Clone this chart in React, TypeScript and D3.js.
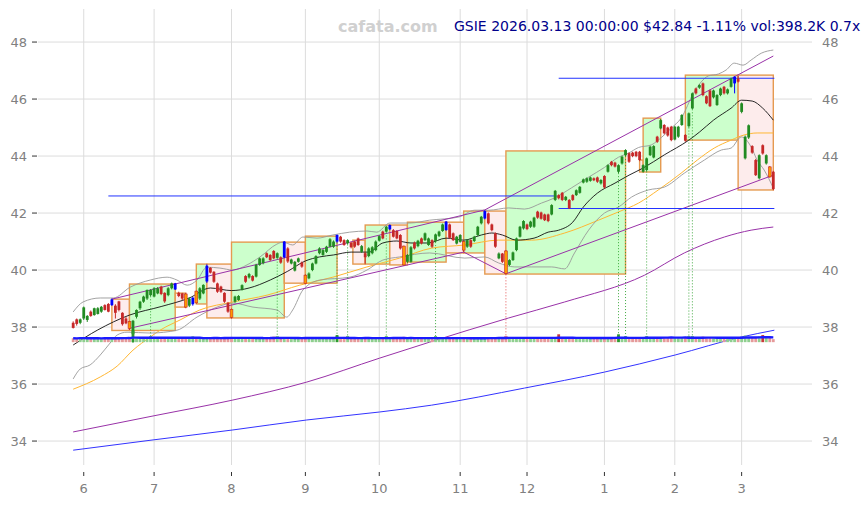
import React from 'react';
import * as d3 from 'd3';

// ---------- DATA ----------
const OPEN = [38.15,38.27,38.15,38.3,38.25,38.54,38.42,38.46,38.54,38.77,38.81,38.77,38.75,38.9,38.5,38.3,38.2,37.75,38.36,38.66,
38.89,39.0,39.12,39.07,39.18,39.42,39.2,39.12,39.36,39.32,39.2,39.18,39.16,38.75,38.8,39.26,39.0,39.18,39.6,40.08,
39.94,39.53,39.42,39.2,38.85,38.62,38.89,38.95,39.32,39.79,39.74,39.79,39.77,40.18,40.24,40.59,40.53,40.67,40.43,40.45,
40.45,40.76,40.23,39.98,40.29,40.26,39.82,39.71,40.0,40.23,40.59,40.53,40.64,40.82,40.82,41.0,41.17,41.05,40.94,40.96,
41.0,41.11,40.64,40.59,40.49,40.59,40.7,41.03,41.35,41.35,41.43,41.4,41.37,41.23,40.84,40.29,40.29,40.96,40.84,41.11,
41.05,40.88,41.05,41.02,41.2,41.37,41.4,41.6,41.29,40.93,40.99,41.0,40.82,41.05,41.02,41.23,41.64,41.81,41.99,41.6,
41.29,40.41,40.58,40.67,40.18,40.35,40.7,41.17,41.46,41.6,41.52,41.52,42.05,42.02,41.95,41.95,41.95,42.46,42.63,42.71,
42.46,42.46,42.63,42.63,42.71,43.07,43.1,43.13,43.22,43.25,43.04,43.3,43.45,43.8,43.77,43.45,43.74,44.03,44.1,44.12,
44.15,44.15,43.45,43.51,44.03,43.95,44.68,44.97,45.09,45.0,45.03,44.58,44.68,45.09,44.74,45.05,45.67,46.37,46.4,46.55,
46.1,46.3,46.06,45.79,46.14,46.43,46.2,46.43,46.55,46.72,45.55,43.92,44.65,44.35,43.86,43.22,44.38,43.74,43.62,43.45];
const CLOSE = [37.97,38.11,38.27,38.69,38.39,38.39,38.66,38.66,38.71,38.6,38.54,38.97,38.5,38.6,38.1,38.13,37.95,38.22,38.6,38.89,
39.07,39.3,39.3,39.36,39.36,39.16,38.9,39.36,39.53,39.53,39.09,39.0,38.7,39.0,39.03,38.85,39.36,39.48,40.15,39.91,
39.59,39.24,39.24,38.89,38.54,38.34,39.07,39.09,39.47,39.59,39.86,39.63,40.18,40.41,40.41,40.45,40.35,40.41,40.59,40.26,
41.0,40.3,40.37,40.29,40.41,40.12,39.53,39.88,40.23,40.49,40.76,40.7,40.82,41.08,41.0,41.23,41.0,40.88,41.05,40.8,
40.82,40.88,40.84,40.45,40.76,40.8,41.0,41.19,41.11,41.52,41.58,41.17,41.11,40.76,40.18,40.53,40.8,40.76,41.03,40.94,
41.29,41.11,40.82,41.25,41.35,41.6,41.7,41.13,41.05,41.17,41.23,40.7,41.05,40.82,41.17,41.52,41.87,42.07,41.64,41.4,
40.82,40.58,40.29,39.88,40.35,40.62,41.11,41.52,41.72,41.44,41.7,41.84,41.84,41.8,41.75,41.72,42.28,42.78,42.52,42.46,
42.57,42.17,42.46,42.8,42.92,43.18,43.22,43.25,43.15,43.1,43.16,42.9,43.68,43.68,43.63,43.68,43.98,44.21,43.8,44.0,
44.0,43.86,43.68,43.92,44.33,44.35,44.5,45.26,44.8,44.72,44.56,45.03,45.03,45.44,44.54,45.5,46.2,46.2,46.49,46.14,
45.85,45.75,46.3,46.14,46.37,46.2,46.34,46.72,46.78,46.61,45.85,44.68,45.08,44.12,43.33,44.03,44.09,44.03,43.27,42.84];
const HIGH = [38.2,38.3,38.3,38.72,38.42,38.58,38.68,38.7,38.74,38.8,38.84,39.0,38.8,38.92,38.52,38.35,38.22,38.25,38.62,38.92,
39.1,39.32,39.33,39.4,39.4,39.45,39.22,39.4,39.56,39.55,39.24,39.2,39.2,39.05,39.05,39.28,39.4,39.5,40.2,40.1,
39.96,39.56,39.45,39.22,38.88,38.65,39.1,39.12,39.5,39.82,39.9,39.82,40.22,40.44,40.45,40.62,40.56,40.7,40.62,40.48,
41.02,40.8,40.4,40.32,40.44,40.3,39.85,39.92,40.26,40.52,40.8,40.74,40.85,41.12,41.04,41.25,41.2,41.08,41.08,41.0,
41.03,41.14,40.88,40.62,40.8,40.84,41.04,41.22,41.38,41.55,41.6,41.44,41.4,41.26,40.86,40.56,40.84,41.0,41.06,41.14,
41.32,41.14,41.08,41.28,41.38,41.63,41.72,41.63,41.32,41.2,41.26,41.02,41.08,41.08,41.2,41.55,41.9,42.1,42.02,41.63,
41.32,40.62,40.6,40.7,40.38,40.65,41.14,41.55,41.75,41.63,41.73,41.87,42.08,42.05,41.98,41.98,42.31,42.81,42.66,42.74,
42.6,42.49,42.66,42.83,42.95,43.21,43.25,43.28,43.25,43.28,43.19,43.33,43.71,43.83,43.8,43.71,44.01,44.24,44.13,44.15,
44.18,44.18,43.71,43.95,44.36,44.38,44.71,45.3,45.12,45.03,45.06,45.06,45.06,45.47,44.77,45.53,46.23,46.4,46.52,46.58,
46.13,46.33,46.33,46.17,46.4,46.46,46.37,46.75,46.8,46.82,45.88,44.72,45.11,44.38,43.9,44.06,44.41,44.06,43.65,43.48];
const LOW = [37.95,38.05,38.1,38.25,38.18,38.36,38.4,38.44,38.5,38.58,38.52,38.74,38.3,38.55,38.05,38.1,37.9,37.45,38.3,38.6,
38.85,38.95,39.08,39.04,39.15,39.12,38.85,39.08,39.32,39.3,39.05,38.95,38.66,38.7,38.75,38.82,38.95,39.15,39.55,39.88,
39.55,39.2,39.2,38.85,38.5,38.3,38.85,38.92,39.28,39.55,39.7,39.6,39.74,40.15,40.2,40.42,40.32,40.38,40.4,40.22,
40.42,40.25,40.2,39.95,40.26,40.08,39.5,39.68,39.96,40.2,40.55,40.5,40.6,40.8,40.78,40.96,40.96,40.85,40.9,40.76,
40.78,40.85,40.6,40.22,40.45,40.55,40.66,41.0,41.08,41.32,41.4,41.14,41.08,40.72,40.15,40.25,40.26,40.72,40.8,40.9,
41.02,40.85,40.78,40.98,41.16,41.34,41.38,41.1,41.02,40.9,40.96,40.63,40.78,40.78,40.98,41.2,41.6,41.78,41.6,41.36,
40.78,40.38,40.25,39.85,40.14,40.32,40.66,41.14,41.42,41.4,41.48,41.48,41.8,41.77,41.72,41.68,41.92,42.42,42.48,42.42,
42.42,42.14,42.42,42.6,42.68,43.04,43.06,43.1,43.12,43.06,43.0,42.86,43.42,43.64,43.6,43.4,43.7,44.0,43.76,43.96,
43.96,43.82,43.42,43.46,44.0,43.92,44.46,44.94,44.76,44.68,44.52,44.55,44.64,45.06,44.5,45.0,45.64,46.16,46.36,46.1,
45.82,45.72,46.02,45.76,46.1,46.16,46.16,46.4,46.2,46.58,45.5,43.88,44.6,44.08,43.3,43.18,44.05,43.7,43.24,42.8];
const VOLUME = [520,480,610,560,450,530,470,500,440,580,510,620,540,590,660,520,700,1550,560,490,
470,530,600,450,480,520,560,430,510,590,470,500,640,520,800,610,480,460,680,550,
570,600,480,620,650,700,540,500,490,560,440,470,580,520,480,500,530,750,800,510,
640,600,450,490,470,520,680,500,530,560,480,440,510,570,490,950,530,700,460,520,
480,500,470,560,510,450,530,600,550,490,580,520,560,610,720,540,590,470,460,500,
520,480,540,510,470,500,600,620,530,480,500,550,460,520,490,560,610,640,580,550,
660,590,600,780,560,520,610,590,540,500,470,520,560,530,490,510,600,640,1050,560,
480,610,520,540,570,600,460,450,430,500,470,620,640,560,530,1050,610,650,590,520,
540,580,600,620,580,610,560,680,590,570,600,550,540,610,620,590,700,560,520,750,
580,620,540,560,510,550,530,600,660,640,720,900,680,620,700,760,950,600,640,398.2];

const BLUE_BARS = [11, 29, 34, 38, 60, 75, 90, 106, 117, 188];
const ORANGE_BARS = [16, 32, 35, 45, 66, 94, 111, 123, 198];

const MONTH_TICKS = [3, 23, 45, 66, 87, 110, 129, 151, 171, 190];
const MONTH_LABELS = ['6', '7', '8', '9', '10', '11', '12', '1', '2', '3'];
const PRICE_TICKS = [34, 36, 38, 40, 42, 44, 46, 48];

// moving average (black)
const MA_MID: [number, number][] = [[0,37.37],[7,37.9],[16,38.42],[25,38.72],[33,39.02],[39,39.37],[45,39.28],[50,39.37],[56,39.65],[61,39.96],[66,40.32],[70,40.46],[74,40.53],[79,40.63],[84,40.63],[88,40.95],[92,41.02],[96,40.95],[101,40.95],[106,41.12],[111,41.05],[116,41.23],[119,41.3],[122,41.23],[126,41.05],[131,41.12],[135,41.33],[138,41.4],[142,41.68],[145,42.21],[149,42.7],[154,43.05],[158,43.33],[162,43.58],[168,44.04],[175,44.56],[178,44.84],[182,45.26],[187,45.68],[190,45.96],[193,45.93],[196,45.68],[199,45.26]];
const BB_UPPER: [number, number][] = [[0,38.53],[2.8,38.88],[7.7,39.02],[11.4,39.02],[16.2,39.4],[21.9,39.65],[26.7,39.75],[29.5,39.65],[32.4,39.47],[35.2,39.65],[38,40.1],[41.7,40.07],[45.4,40.0],[49.4,40.18],[53.1,40.46],[57.9,40.91],[59.6,40.98],[62.4,40.88],[65.3,41.16],[69.3,41.12],[73.8,41.23],[78.6,41.33],[83.5,41.37],[86.3,41.33],[90,41.65],[95.7,41.65],[101.3,41.75],[109.6,41.86],[114.1,42.1],[118.1,42.1],[123.8,42.18],[128.3,42.14],[133.1,42.35],[136.8,42.53],[141.6,42.88],[146.5,43.26],[151,43.6],[155,43.96],[157.8,44.1],[160.7,44.3],[164.3,44.39],[166.3,44.56],[170,44.98],[172.8,45.33],[176.5,46.25],[178.5,46.6],[180.5,46.81],[183.4,46.88],[185.6,47.02],[187.9,47.26],[190.4,47.19],[192.7,47.37],[195.6,47.61],[199,47.72]];
const BB_LOWER: [number, number][] = [[0,36.18],[2,36.53],[4.8,36.67],[7.7,37.02],[10.5,37.44],[12.5,37.72],[15.3,37.82],[21.9,37.79],[29.5,37.89],[35.2,38.35],[40.9,38.7],[45.4,38.84],[51.1,38.7],[57.9,38.6],[60.7,38.35],[62.4,38.6],[65.3,39.3],[70.1,39.65],[78.6,39.75],[83.5,40.0],[88,40.35],[92.8,40.46],[101.3,40.6],[111.3,40.42],[116.9,40.46],[120.9,40.25],[125.5,40.11],[130.3,40.11],[136,40.11],[139.7,40.04],[142.5,40.6],[146.5,41.4],[151,42.0],[155,42.21],[158.7,42.56],[163.5,42.81],[168,42.91],[173.7,43.4],[179.4,43.86],[184.2,44.21],[187,44.28],[189.9,44.67],[192.7,44.32],[194.4,43.86],[196.4,43.51],[199,42.88]];
const MA_ORANGE: [number, number][] = [[0,35.82],[7.7,36.25],[12.5,36.63],[17,37.19],[21.9,37.65],[24.7,37.89],[30.4,38.25],[36,38.6],[45.4,38.88],[55.1,39.12],[64.4,39.47],[73.8,39.75],[83.5,40.11],[92.8,40.42],[101.9,40.77],[111.3,40.88],[120.9,41.05],[130.3,41.05],[139.7,41.3],[149.3,41.75],[155,42.04],[160.7,42.35],[166.3,42.81],[172.8,43.4],[177.4,43.86],[182.2,44.28],[187,44.56],[190.7,44.74],[194.4,44.81],[199,44.81]];
const MA_PURPLE: [number, number][] = [[0,34.32],[22.7,34.88],[45.4,35.44],[66.4,36.07],[87.1,36.91],[101.3,37.47],[123.8,38.32],[139.7,38.88],[162.4,39.82],[173.7,40.6],[185.1,41.16],[192.7,41.4],[199,41.51]];
const MA_BLUE: [number, number][] = [[0,33.68],[22.7,34.04],[45.4,34.39],[66.4,34.74],[87.1,35.02],[101.9,35.26],[128.3,35.86],[151,36.42],[171.1,37.02],[189.9,37.65],[199.3,37.89]];

// trend lines [i0, v0, i1, v1]
const TREND_LINES: [number, number, number, number][] = [
  [11, 38.98, 117, 42.11],
  [16.2, 37.96, 111, 40.63],
  [117, 42.11, 199, 47.51],
  [111, 40.63, 123, 39.87],
  [123, 39.87, 199, 43.33],
];
// horizontal levels [i0, i1, v]
const LEVELS: [number, number, number][] = [
  [10, 137.4, 42.6],
  [138, 199.3, 42.16],
  [138, 199.3, 46.73],
];
// boxes
const BOX_START = [11, 16, 29, 35, 38, 45, 60, 66, 79.5, 83, 90, 95, 106, 111, 117, 123, 161, 162, 174, 189];
const BOX_END   = [16, 29, 32, 38, 45, 60, 66, 75, 83, 90, 95, 106, 111, 117, 123, 157, 162, 167, 189, 199];
const BOX_HIGH  = [38.98, 39.51, 39.19, 40.21, 40.21, 40.98, 40.98, 41.19, 41.05, 41.58, 41.58, 41.68, 41.68, 42.07, 42.07, 44.18, 43.86, 45.33, 46.84, 46.84];
const BOX_LOW   = [37.88, 37.88, 38.7, 38.81, 38.32, 38.32, 39.54, 39.54, 40.21, 40.21, 40.18, 40.28, 40.6, 40.6, 39.86, 39.86, 43.44, 43.44, 44.56, 42.81];
const BOX_UP    = [false, true, false, true, false, true, false, true, false, true, false, true, false, true, false, true, false, true, true, false];

const SIGNAL_BARS = [22, 58, 75, 78, 89, 103, 123, 155, 157, 163, 175, 176];
const SIGNAL_UP   = [true, true, true, true, true, true, false, true, true, true, true, true];

const TITLE = 'GSIE 2026.03.13 00:00:00 $42.84 -1.11% vol:398.2K 0.7x';
const WATERMARK = 'cafata.com';

export default function App() {
  const W = 864, H = 505;
  const left = 38, right = 812, top = 9, bottom = 465;
  const x = d3.scaleLinear().domain([-10, 210]).range([left, right]);
  const y = d3.scaleLinear().domain([33.16, 49.16]).range([bottom, top]);
  const volBase = y(37.47);
  const vh = d3.scaleLinear().domain([0, 1600]).range([0, 12]);
  const line = d3.line<[number, number]>().x(d => x(d[0])).y(d => y(d[1])).curve(d3.curveMonotoneX);
  const font = 'DejaVu Sans, sans-serif';
  const bw = 2.8;

  const volMA: [number, number][] = VOLUME.map((_, i) => {
    const s = VOLUME.slice(Math.max(0, i - 19), i + 1);
    return [i, d3.mean(s) as number];
  });

  const candleColor = (i: number) => {
    if (BLUE_BARS.includes(i)) return '#0000ff';
    if (ORANGE_BARS.includes(i)) return '#ff9900';
    return CLOSE[i] >= OPEN[i] ? '#228b22' : '#c62828';
  };

  return (
    <svg width={W} height={H} style={{ position: 'absolute', left: 0, top: 0, background: '#fff' }} fontFamily={font}>
      <rect x={0} y={0} width={W} height={H} fill="#fff" />
      {/* grid */}
      {PRICE_TICKS.map(t => (
        <line key={'hg' + t} x1={left} x2={right} y1={y(t)} y2={y(t)} stroke="#dcdcdc" strokeWidth={1} />
      ))}
      {MONTH_TICKS.map(t => (
        <line key={'vg' + t} x1={x(t)} x2={x(t)} y1={top} y2={bottom} stroke="#dcdcdc" strokeWidth={1} />
      ))}
      {/* y ticks left */}
      {PRICE_TICKS.map(t => (
        <g key={'yt' + t}>
          <line x1={32} x2={37} y1={y(t)} y2={y(t)} stroke="#333" strokeWidth={1} />
          <text x={27} y={y(t)} dy="0.35em" textAnchor="end" fontSize={13} fill="#808080">{t}</text>
          <text x={822} y={y(t)} dy="0.35em" textAnchor="start" fontSize={13} fill="#808080">{t}</text>
        </g>
      ))}
      {/* x ticks */}
      {MONTH_TICKS.map((t, k) => (
        <g key={'xt' + t}>
          <line x1={x(t)} x2={x(t)} y1={472} y2={476} stroke="#333" strokeWidth={1} />
          <text x={x(t)} y={493} textAnchor="middle" fontSize={13} fill="#808080">{MONTH_LABELS[k]}</text>
        </g>
      ))}
      {/* boxes */}
      {BOX_START.map((s, k) => (
        <rect key={'bx' + k} x={x(s)} y={y(BOX_HIGH[k])} width={x(BOX_END[k]) - x(s)} height={y(BOX_LOW[k]) - y(BOX_HIGH[k])}
          fill={BOX_UP[k] ? '#ccffcc' : '#fdecec'} stroke="#e59a50" strokeWidth={1.4} />
      ))}
      {/* long MAs */}
      <path d={line(MA_BLUE) || ''} fill="none" stroke="#3333ff" strokeWidth={1} />
      <path d={line(MA_PURPLE) || ''} fill="none" stroke="#9932a8" strokeWidth={1} />
      <path d={line(MA_ORANGE) || ''} fill="none" stroke="#ffb733" strokeWidth={1} />
      <path d={line(BB_UPPER) || ''} fill="none" stroke="#999" strokeWidth={0.9} />
      <path d={line(BB_LOWER) || ''} fill="none" stroke="#999" strokeWidth={0.9} />
      <path d={line(MA_MID) || ''} fill="none" stroke="#111" strokeWidth={0.9} />
      {/* trend lines */}
      {TREND_LINES.map((t, k) => (
        <line key={'tl' + k} x1={x(t[0])} y1={y(t[1])} x2={x(t[2])} y2={y(t[3])} stroke="#9932a8" strokeWidth={1} />
      ))}
      {LEVELS.map((l, k) => (
        <line key={'lv' + k} x1={x(l[0])} x2={x(l[1])} y1={y(l[2])} y2={y(l[2])} stroke="#2233ff" strokeWidth={1} />
      ))}
      {/* signal dotted lines */}
      {SIGNAL_BARS.map((i, k) => (
        <g key={'sg' + i}>
          <line x1={x(i)} x2={x(i)} y1={y(LOW[i])} y2={volBase - 4} stroke={SIGNAL_UP[k] ? '#2ca02c' : '#e04040'} strokeWidth={0.9} strokeDasharray="1,2" />
          <rect x={x(i) - 1.5} y={volBase - 6} width={3} height={3} fill={SIGNAL_UP[k] ? '#5cb85c' : '#e06060'} />
        </g>
      ))}
      {/* candles */}
      {OPEN.map((o, i) => {
        const c = CLOSE[i];
        const col = candleColor(i);
        const yt = y(Math.max(o, c));
        const yb = y(Math.min(o, c));
        const isO = ORANGE_BARS.includes(i);
        return (
          <g key={'c' + i}>
            <line x1={x(i)} x2={x(i)} y1={y(HIGH[i])} y2={y(LOW[i])} stroke={isO ? '#c62828' : col} strokeWidth={1} />
            <rect x={x(i) - bw / 2} y={yt} width={bw} height={Math.max(1, yb - yt)} fill={col}
              stroke={isO ? '#c62828' : 'none'} strokeWidth={isO ? 0.6 : 0} />
          </g>
        );
      })}
      {/* volume */}
      {VOLUME.map((v, i) => {
        const up = CLOSE[i] >= OPEN[i];
        const strong = v > 900;
        const fill = up ? (strong ? '#2e9a2e' : '#8fcf8f') : (strong ? '#c83a3a' : '#e59a9a');
        return <rect key={'v' + i} x={x(i) - 1.4} y={volBase - vh(v)} width={2.8} height={vh(v)} fill={fill} />;
      })}
      <path d={d3.line<[number, number]>().x(d => x(d[0])).y(d => volBase - vh(d[1]))(volMA) || ''} fill="none" stroke="#1a1aff" strokeWidth={2.4} />
      {/* texts */}
      <text x={338} y={32} fontSize={16} fontWeight="bold" fill="#d0d0d0">{WATERMARK}</text>
      <text x={454} y={31} fontSize={14} fill="#00008b">{TITLE}</text>
    </svg>
  );
}
